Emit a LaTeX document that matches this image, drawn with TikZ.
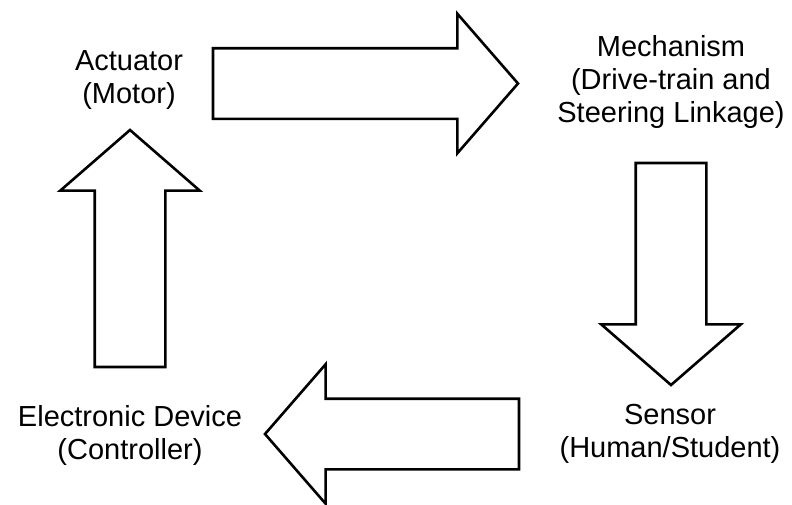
\documentclass[tikz,border=0pt]{standalone}
\usepackage{fontspec}
\setmainfont{Liberation Sans}
\usetikzlibrary{shapes.arrows}

\begin{document}
\begin{tikzpicture}[
        x=1pt, y=-1pt,
        label/.style={align=center, font=\fontsize{29}{33}\selectfont},
        block/.style={single arrow, draw=black, fill=white, line width=2.6pt, single arrow head extend=34.5pt, single arrow tip angle=98, inner sep=34pt, outer sep=0pt}
    ]
    \useasboundingbox (0,0) rectangle (792,504);

    \node[label] (act) at (129,80) {Actuator\\(Motor)};
    \node[label] (mech) at (671,82) {Mechanism\\(Drive-train and\\Steering Linkage)};
    \node[label] (sens) at (670,434) {Sensor\\(Human/Student)};
    \node[label] (ctrl) at (130,435) {Electronic Device\\(Controller)};

    \node[block, minimum height=305pt, shape border rotate=0, anchor=tail] (a1) at (213,83.5) {};
    \node[block, minimum height=222pt, shape border rotate=270, anchor=tail] (a2) at (671,163) {};
    \node[block, minimum height=254pt, shape border rotate=180, anchor=tail] (a3) at (519,434) {};
    \node[block, minimum height=237pt, shape border rotate=90, anchor=tail] (a4) at (130,367) {};

\end{tikzpicture}
\end{document}
